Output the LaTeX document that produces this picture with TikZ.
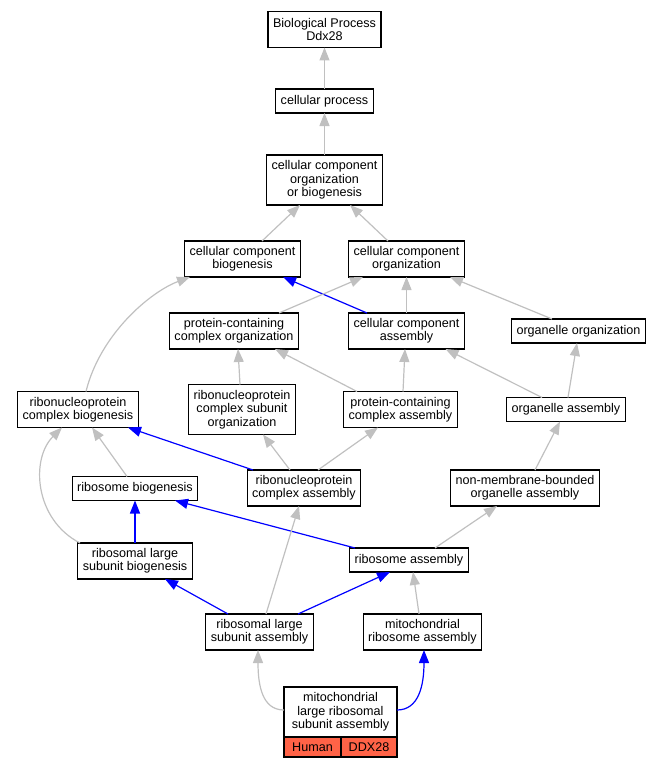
\documentclass[tikz,border=0pt]{standalone}
\usepackage{fontspec}
\setmainfont{Liberation Sans}
\usepackage{tikz}
\usetikzlibrary{arrows.meta}
\definecolor{isagray}{RGB}{192,192,192}
\definecolor{tomato}{RGB}{255,99,71}

\begin{document}
\begin{tikzpicture}[x=1pt,y=-1pt]
 \tikzstyle{term}=[draw, line width=1.3pt, fill=white, align=center, inner xsep=5pt, inner ysep=2pt,
   font=\fontsize{12.6}{13.3}\selectfont, minimum height=24pt, outer sep=0pt]
 \tikzstyle{two}=[minimum height=36pt]
 \tikzstyle{three}=[minimum height=50pt]
 \tikzstyle{cell}=[draw, line width=1.3pt, fill=tomato, font=\fontsize{12.6}{13.3}\selectfont,
   minimum height=20pt, inner sep=0pt, outer sep=0pt, anchor=north west]
 \tikzstyle{isa}=[draw=isagray, line width=1.2pt, -{Triangle[length=13pt,width=10pt]}]
 \tikzstyle{blu}=[draw=blue, line width=1.2pt, -{Triangle[length=13pt,width=10pt]}]
 \useasboundingbox (0,0) rectangle (664,768);

  \node[term,two] at (324.5,29.5) (bp) {Biological Process\\Ddx28};
  \node[term] at (324.5,101) (cp) {cellular process};
  \node[term,three] at (324.5,180) (ccob) {cellular component\\organization\\or biogenesis};
  \node[term,two] at (242.5,259) (ccb) {cellular component\\biogenesis};
  \node[term,two] at (406.5,259) (cco) {cellular component\\organization};
  \node[term,two] at (234,331) (pcco) {protein-containing\\complex organization};
  \node[term,two] at (406.5,331) (cca) {cellular component\\assembly};
  \node[term] at (578.5,331) (oo) {organelle organization};
  \node[term,two] at (78,409.5) (rnpb) {ribonucleoprotein\\complex biogenesis};
  \node[term,three] at (242,409.5) (rnpcso) {ribonucleoprotein\\complex subunit\\organization};
  \node[term,two] at (400.5,409.5) (pcca) {protein-containing\\complex assembly};
  \node[term] at (566,409.5) (oa) {organelle assembly};
  \node[term] at (135,488.5) (rb) {ribosome biogenesis};
  \node[term,two] at (304,488) (rnpca) {ribonucleoprotein\\complex assembly};
  \node[term,two] at (525,488) (nmboa) {non-membrane-bounded\\organelle assembly};
  \node[term,two] at (135,561) (rlsb) {ribosomal large\\subunit biogenesis};
  \node[term] at (409,560) (ra) {ribosome assembly};
  \node[term,two] at (259.5,632) (rlsa) {ribosomal large\\subunit assembly};
  \node[term,two] at (422.5,632) (mra) {mitochondrial\\ribosome assembly};
  \node[term,three, minimum width=113pt] at (340.5,712) (tgt) {mitochondrial\\large ribosomal\\subunit assembly};
  \node[cell, minimum width=57pt] at (tgt.south west) (hum) {Human};
  \node[cell, minimum width=56pt] at (hum.north east) (ddx) {DDX28};

  \draw[isa] (cp.north) -- (bp.south);
  \draw[isa] (ccob.north) -- (cp.south);
  \draw[isa] ([xshift=19.5pt]ccb.north) -- ([xshift=-24.5pt]ccob.south);
  \draw[isa] ([xshift=-18.5pt]cco.north) -- ([xshift=25.5pt]ccob.south);
  \draw[blu] ([xshift=-39.5pt]cca.north) -- ([xshift=40.5pt]ccb.south);
  \draw[isa] (cca.north) -- (cco.south);
  \draw[isa] ([xshift=45pt]pcco.north) -- ([xshift=-43.5pt]cco.south);
  \draw[isa] ([xshift=-26.5pt]oo.north) -- ([xshift=43.5pt]cco.south);
  \draw[isa] ([xshift=8pt]rnpb.north) .. controls +(14,-57) and +(-40,15) .. ([xshift=-52.5pt]ccb.south);
  \draw[isa] ([xshift=-2pt]rnpcso.north) -- ([xshift=4pt]pcco.south);
  \draw[isa] ([xshift=-43.5pt]pcca.north) -- ([xshift=41pt]pcco.south);
  \draw[isa] ([xshift=2.5pt]pcca.north) -- ([xshift=-1.5pt]cca.south);
  \draw[isa] ([xshift=-24pt]oa.north) -- ([xshift=39pt]cca.south);
  \draw[isa] ([xshift=2pt]oa.north) -- ([xshift=-1.5pt]oo.south);
  \draw[isa] ([xshift=-8pt]rb.north) -- ([xshift=14pt]rnpb.south);
  \draw[blu] ([xshift=-51pt]rnpca.north) -- ([xshift=50pt]rnpb.south);
  \draw[isa] ([xshift=-14pt]rnpca.north) -- ([xshift=21pt]rnpcso.south);
  \draw[isa] ([xshift=14pt]rnpca.north) -- ([xshift=-22.5pt]pcca.south);
  \draw[isa] ([xshift=10pt]nmboa.north) -- ([xshift=-6pt]oa.south);
  \draw[isa] ([xshift=-55pt]rlsb.north) .. controls +(-45,-23) and +(-32,32) .. ([xshift=-16pt]rnpb.south);
  \draw[blu] (rlsb.north) -- (rb.south);
  \draw[blu] ([xshift=-54pt]ra.north) -- ([xshift=40pt]rb.south);
  \draw[isa] ([xshift=26pt]ra.north) -- ([xshift=-28pt]nmboa.south);
  \draw[blu] ([xshift=-31.5pt]rlsa.north) -- ([xshift=30pt]rlsb.south);
  \draw[blu] ([xshift=38.5pt]rlsa.north) -- ([xshift=-19pt]ra.south);
  \draw[isa] ([xshift=6.5pt]rlsa.north) -- ([xshift=-5pt]rnpca.south);
  \draw[isa] ([xshift=-3.5pt]mra.north) -- ([xshift=4pt]ra.south);
  \draw[isa] ([yshift=2pt]tgt.west) .. controls +(-22,0) and +(0,35) .. ([xshift=-1.5pt]rlsa.south);
  \draw[blu] ([yshift=2pt]tgt.east) .. controls +(22,0) and +(0,35) .. ([xshift=1.5pt]mra.south);
\end{tikzpicture}
\end{document}
